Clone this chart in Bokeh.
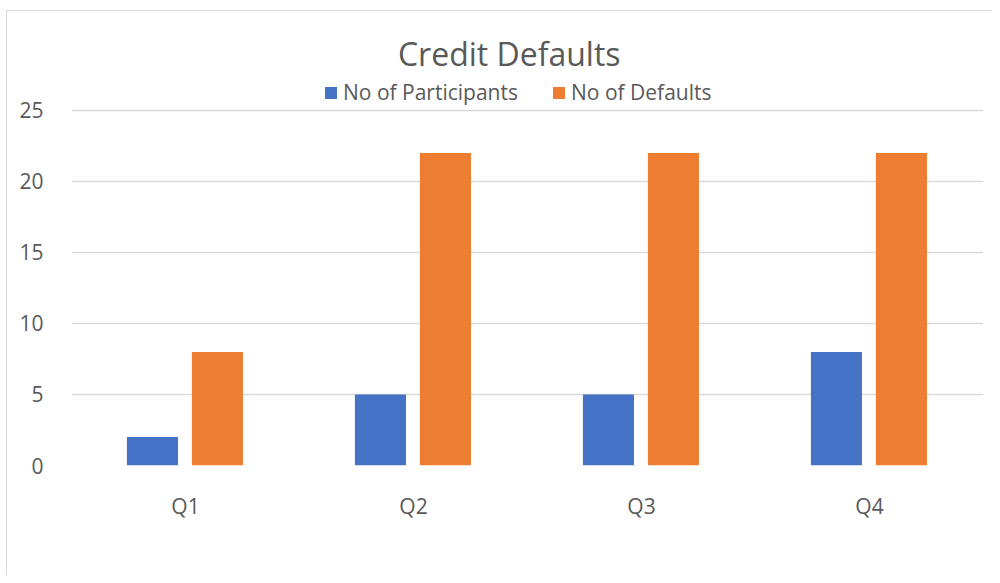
from bokeh.plotting import figure
from bokeh.models import ColumnDataSource, FactorRange, Range1d, Legend, LegendItem, FixedTicker, Label
from bokeh.transform import dodge
from bokeh.embed import file_html
from bokeh.resources import INLINE

quarters = ["Q1", "Q2", "Q3", "Q4"]
participants = [2, 5, 5, 8]
defaults = [8, 22, 22, 22]
y_ticks = [0, 5, 10, 15, 20, 25]
title_text = "Credit Defaults"
series_names = ["No of Participants", "No of Defaults"]

src = ColumnDataSource(dict(quarter=quarters, participants=participants, defaults=defaults))

FONT = "Open Sans"
GREY = "#595959"

p = figure(width=986, height=565, output_backend="svg", toolbar_location=None,
           x_range=FactorRange(factors=quarters, range_padding=0),
           y_range=Range1d(0, 31.97),
           min_border_left=64, min_border_right=10, min_border_bottom=111, min_border_top=0)
p.margin = (10, 0, 0, 6)
p.styles = {"border-left": "1px solid #D9D9D9", "border-top": "1px solid #D9D9D9"}

p.outline_line_color = None
p.background_fill_color = "white"
p.border_fill_color = "white"

r1 = p.vbar(x=dodge("quarter", -0.145, range=p.x_range), top="participants", width=0.224,
            source=src, fill_color="#4472C4", line_color=None)
r2 = p.vbar(x=dodge("quarter", 0.14, range=p.x_range), top="defaults", width=0.224,
            source=src, fill_color="#ED7D31", line_color=None)

p.add_layout(Label(x=1.92, y=29.0, text=title_text, text_align="center", text_baseline="middle",
                   text_font=FONT, text_font_size="32px", text_color=GREY))

legend = Legend(items=[LegendItem(label=series_names[0], renderers=[r1]),
                       LegendItem(label=series_names[1], renderers=[r2])],
                orientation="horizontal", location=(252, 359),
                label_text_font=FONT, label_text_font_size="21px", label_text_color=GREY,
                glyph_width=15, glyph_height=15, label_standoff=5, spacing=33,
                padding=0, margin=0, border_line_color=None, background_fill_alpha=0,
                label_height=22)
p.add_layout(legend, "center")

p.xgrid.grid_line_color = None
p.ygrid.grid_line_color = "#D9D9D9"
p.ygrid.grid_line_width = 1.3
p.yaxis.ticker = FixedTicker(ticks=y_ticks)

for ax in (p.xaxis, p.yaxis):
    ax.axis_line_color = None
    ax.major_tick_line_color = None
    ax.minor_tick_line_color = None
    ax.major_label_text_font = FONT
    ax.major_label_text_font_size = "21px"
    ax.major_label_text_color = GREY
p.yaxis.major_label_standoff = 22
p.xaxis.major_label_standoff = 20

open("out.html", "w").write(file_html(p, INLINE))
